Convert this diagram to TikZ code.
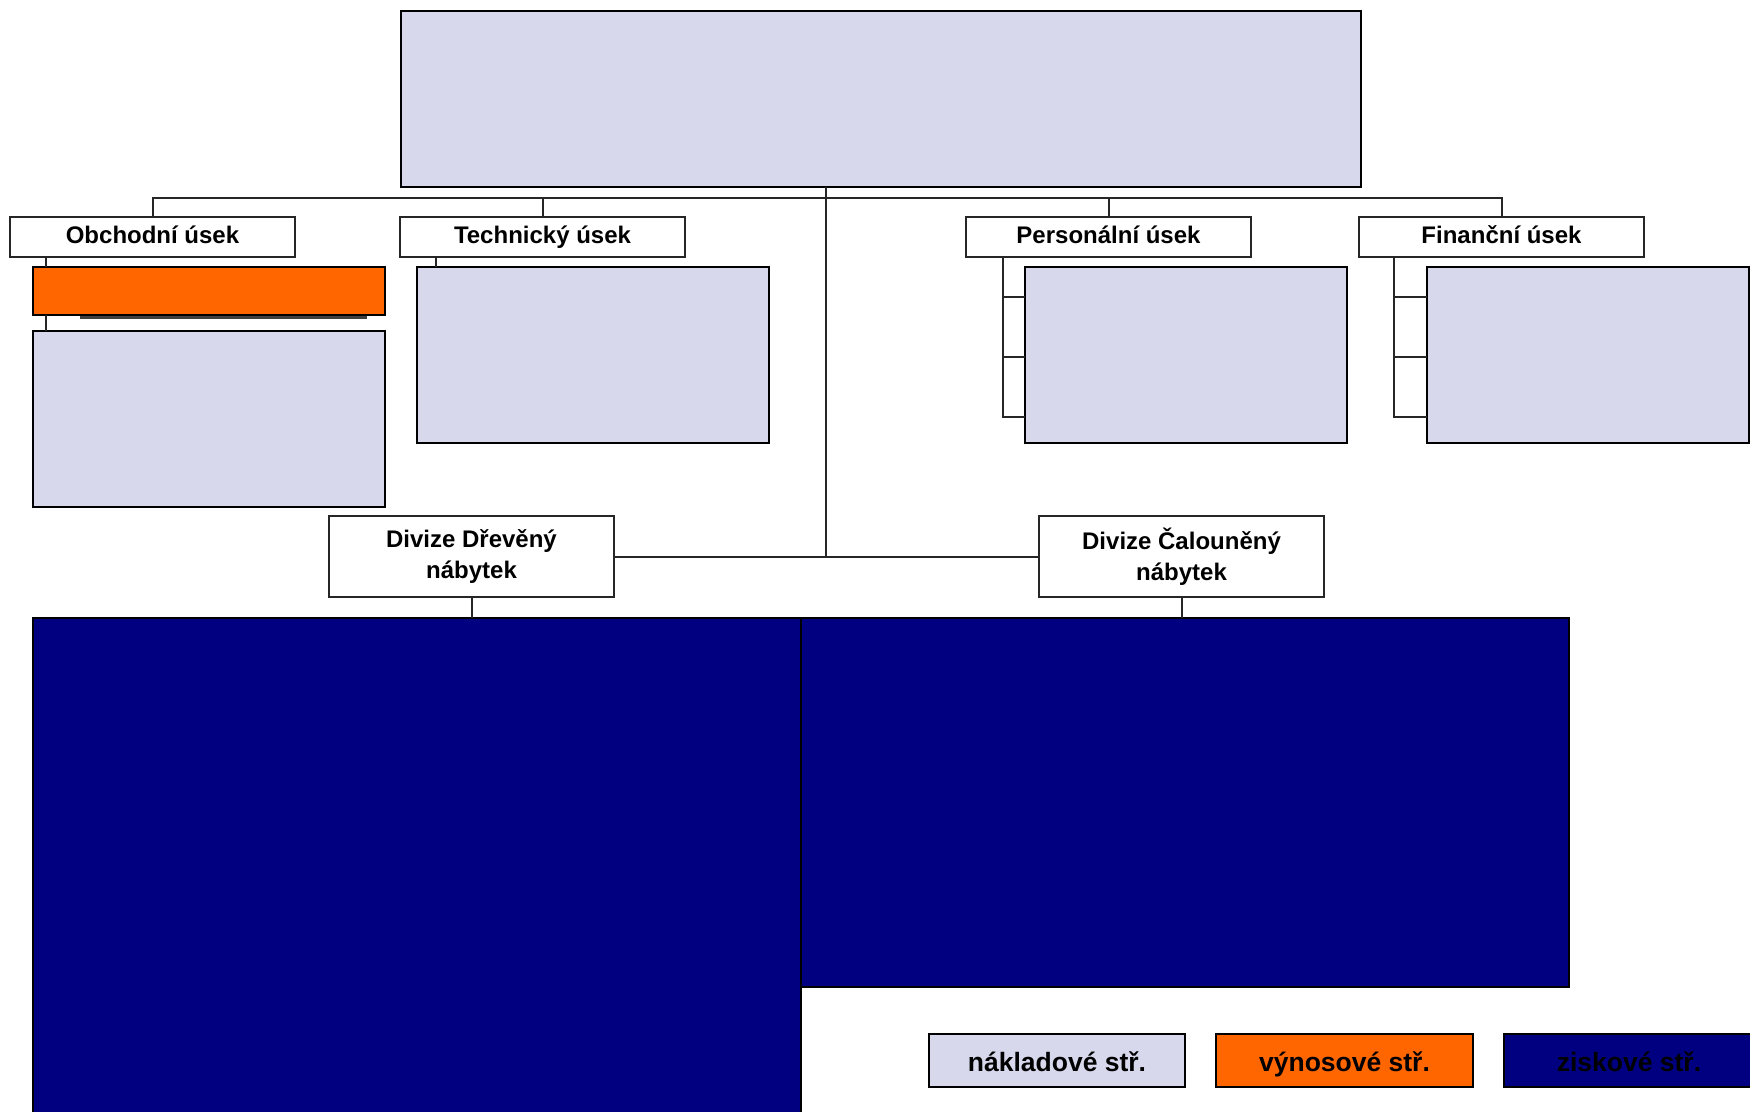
\documentclass[tikz,border=0pt]{standalone}
\usepackage{fontspec}
\setmainfont{Liberation Sans}
\definecolor{lav}{HTML}{D7D8EC}
\definecolor{orng}{HTML}{FF6600}
\definecolor{navyb}{HTML}{000080}
\begin{document}
\begin{tikzpicture}[x=1pt,y=-1pt,
  base/.style={anchor=north west,inner sep=0pt,outer sep=0pt},
  costbox/.style={base,draw=black,line width=2.6pt,fill=lav},
  revbox/.style={base,draw=black,line width=2.6pt,fill=orng},
  profbox/.style={base,draw=black,line width=1.5pt,fill=navyb},
  deptbox/.style={base,draw=black!85,line width=2pt,fill=white,minimum width=285pt,minimum height=40pt,
    text height=17pt,text depth=5pt,font=\bfseries\fontsize{24}{29}\selectfont},
  divbox/.style={base,draw=black!85,line width=2pt,fill=white,minimum width=285pt,minimum height=81pt,
    align=center,font=\bfseries\fontsize{24}{31}\selectfont},
  legbox/.style={base,draw=black,line width=2.4pt,minimum height=53pt,
    text height=25pt,text depth=3pt,font=\bfseries\fontsize{26.5}{30}\selectfont},
  conn/.style={line width=2pt,black!85}]
\useasboundingbox (0,0) rectangle (1750,1111);
\clip (0,0) rectangle (1750,1111);

% top box
\node[costbox,minimum width=960pt,minimum height=176pt] (top) at (401,11) {};
\coordinate (topout) at (826,187);

% departments
\node[deptbox] (obch) at (10,217) {Obchodní úsek};
\node[deptbox] (tech) at (400,217) {Technický úsek};
\node[deptbox] (pers) at (966,217) {Personální úsek};
\node[deptbox] (fin)  at (1359,217) {Finanční úsek};

% bus
\draw[conn] (obch.north) -- ++(0,-19) coordinate (bus) -| (fin.north);
\draw[conn] (tech.north) -- (tech.north |- bus);
\draw[conn] (pers.north) -- (pers.north |- bus);

% divisions
\node[divbox] (div1) at (329,516) {Divize Dřevěný\\nábytek};
\node[divbox] (div2) at (1039,516) {Divize Čalouněný\\nábytek};
\draw[conn] (topout) -- (topout |- div1.east);
\draw[conn] (div1.east) -- (div2.west);

% profit boxes
\node[profbox,minimum width=768pt,minimum height=520pt] (blue1) at (33,618) {};
\node[profbox,minimum width=768pt,minimum height=369pt] (blue2) at (801,618) {};
\draw[conn] (div1.south) -- (div1.south |- blue1.north);
\draw[conn] (div2.south) -- (div2.south |- blue2.north);

% Obchodni sub boxes
\fill[black!75] (80,315) rectangle (367,319);
\node[revbox,minimum width=352pt,minimum height=48pt] (obrev) at (33,267) {};
\node[costbox,minimum width=352pt,minimum height=176pt] (obcost) at (33,331) {};
\draw[conn] ([xshift=36pt]obch.south west) -- ([xshift=13pt]obrev.north west);
\draw[conn] ([xshift=13pt]obrev.south west) -- ([xshift=13pt]obcost.north west);

% Technicky sub box
\node[costbox,minimum width=352pt,minimum height=176pt] (techsub) at (417,267) {};
\draw[conn] ([xshift=36pt]tech.south west) -- ([xshift=19pt]techsub.north west);

% Personalni sub box with bracket
\node[costbox,minimum width=322pt,minimum height=176pt] (perssub) at (1025,267) {};
\draw[conn] ([xshift=37pt]pers.south west) -- ++(0,160) -- ([yshift=-150pt]perssub.north west);
\draw[conn] ([xshift=37pt,yshift=-40pt]pers.south west) -- ([yshift=-30pt]perssub.north west);
\draw[conn] ([xshift=37pt,yshift=-100pt]pers.south west) -- ([yshift=-90pt]perssub.north west);

% Financni sub box with bracket
\node[costbox,minimum width=322pt,minimum height=176pt] (finsub) at (1427,267) {};
\draw[conn] ([xshift=35pt]fin.south west) -- ++(0,160) -- ([yshift=-150pt]finsub.north west);
\draw[conn] ([xshift=35pt,yshift=-40pt]fin.south west) -- ([yshift=-30pt]finsub.north west);
\draw[conn] ([xshift=35pt,yshift=-100pt]fin.south west) -- ([yshift=-90pt]finsub.north west);

% legend
\node[legbox,fill=lav,minimum width=256pt] (leg1) at (929,1034) {nákladové stř.};
\node[legbox,fill=orng,minimum width=257pt] (leg2) at (1216,1034) {výnosové stř.};
\node[legbox,fill=navyb,minimum width=250pt] (leg3) at (1504,1034) {ziskové stř.};
\end{tikzpicture}
\end{document}
